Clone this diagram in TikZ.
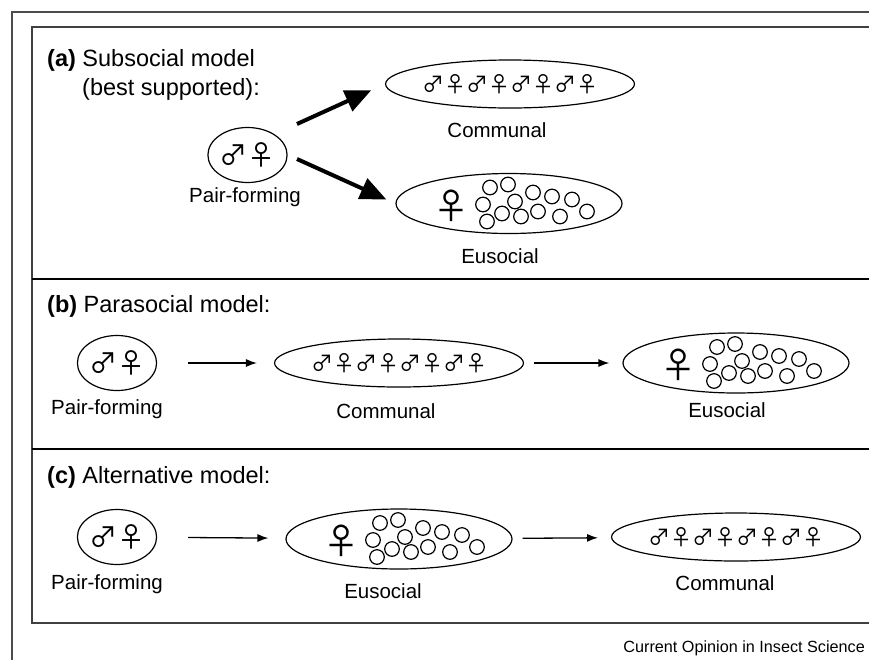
\documentclass[tikz,border=0pt]{standalone}
\usepackage{fontspec}
\setmainfont{Liberation Sans}
\newfontfamily\symfont{Noto Sans CJK SC}
\usetikzlibrary{shapes.geometric}
\usetikzlibrary{arrows.meta}
\usetikzlibrary{positioning}

\newcommand{\symM}{{\symfont ♂}}
\newcommand{\symF}{{\symfont ♀}}
\newcommand{\colony}{\symM\symF\symM\symF\symM\symF\symM\symF}

% queen plus workers inside a eusocial colony
\newcommand{\workers}[2]{%
	\foreach \dx/\dy in {-19/-16,-1/-19,-26/1,6/-2,24/-11,43/-7,63/-4,-22/18,-7/10,12/13,29/8,51/13,78/8}
		\draw[line width=1.2pt] ([shift={(\dx,\dy)}]#1) circle (7.3);
	\node[queen] (#2) at ([shift={(-58,2)}]#1) {\symF};
}

\begin{document}
\begin{tikzpicture}[x=1pt,y=-1pt]
	\useasboundingbox (0,0) rectangle (869,659);
	\clip (0,0) rectangle (869,659);

	\tikzstyle{pairnode} = [ellipse,draw,line width=1.2pt,minimum width=75pt,minimum height=55pt,inner sep=0pt,font=\fontsize{28}{28}\selectfont]
	\tikzstyle{colnode} = [ellipse,draw,line width=1.2pt,minimum width=226pt,minimum height=48pt,inner sep=0pt,font=\fontsize{22}{22}\selectfont]
	\tikzstyle{eusnode} = [ellipse,draw,line width=1.2pt,minimum width=226pt,minimum height=60pt,inner sep=0pt]
	\tikzstyle{queen} = [inner sep=0pt,font=\fontsize{36}{36}\selectfont]
	\tikzstyle{lab} = [anchor=base,inner sep=0pt,font=\fontsize{20.5}{24}\selectfont]
	\tikzstyle{title} = [anchor=base west,inner sep=0pt,font=\fontsize{23.5}{28}\selectfont]
	\tikzstyle{bigedge} = [line width=4pt,-{Triangle[length=26pt,width=22pt]}]
	\tikzstyle{vedge} = [line width=1.3pt,-{Latex[length=11pt,width=8pt]},shorten <=31pt,shorten >=17pt]

	% frames
	\draw[line width=2pt,black!70] (12,12) rectangle (900,700);
	\draw[line width=1.6pt,black!75] (32,27) rectangle (900,623);
	\draw[line width=2.6pt] (32,279) -- (900,279);
	\draw[line width=2.6pt] (32,449) -- (900,449);

	% (a)
	\node[title] (ta1) at (47,66) {\textbf{(a)} Subsocial model};
	\node[title] (ta2) at (82,95) {(best supported):};

	\node[pairnode] (pa) at (247.5,155) {\symM\symF};
	\node[lab] (pa-l) at (245,202) {Pair-forming};

	\node[colnode] (ca) at (510,84) {\colony};
	\node[lab] (ca-l) at (497,137) {Communal};

	\node[eusnode] (ea) at (509,203.5) {};
	\workers{ea}{qa}
	\node[lab] (ea-l) at (500,263) {Eusocial};

	\coordinate (pa-up) at (297,124);
	\coordinate (pa-dn) at (297,159);
	\draw[bigedge,shorten >=15pt] (pa-up) -- (ca.west);
	\draw[bigedge,shorten >=10pt] (pa-dn) -- (ea.west);

	% (b)
	\node[title] (tb) at (47,312) {\textbf{(b)} Parasocial model:};

	\node[pairnode] (pb) at (117,363) {\symM\symF};
	\node[lab] (pb-l) at (107,414) {Pair-forming};

	\node[colnode] (cb) at (399,363) {\colony};
	\node[lab] (cb-l) at (386,418) {Communal};

	\node[eusnode] (eb) at (736,363) {};
	\workers{eb}{qb}
	\node[lab] (eb-l) at (727,417) {Eusocial};

	\draw (pb) edge [vedge] (cb);
	\draw (cb) edge [vedge,shorten <=10pt,shorten >=13pt] (eb);

	% (c)
	\node[title] (tc) at (47,483) {\textbf{(c)} Alternative model:};

	\node[pairnode] (pc) at (117,537) {\symM\symF};
	\node[lab] (pc-l) at (107,589) {Pair-forming};

	\node[eusnode] (ec) at (399,539) {};
	\workers{ec}{qc}
	\node[lab] (ec-l) at (383,598) {Eusocial};

	\node[colnode] (cc) at (736,537) {\colony};
	\node[lab] (cc-l) at (725,590) {Communal};

	\draw (pc) edge [vedge] (ec);
	\draw (ec) edge [vedge,shorten <=10pt,shorten >=13pt] (cc);

	\node[anchor=base east,inner sep=0pt,font=\fontsize{16.2}{18}\selectfont] (src) at (865,652) {Current Opinion in Insect Science};
\end{tikzpicture}
\end{document}
